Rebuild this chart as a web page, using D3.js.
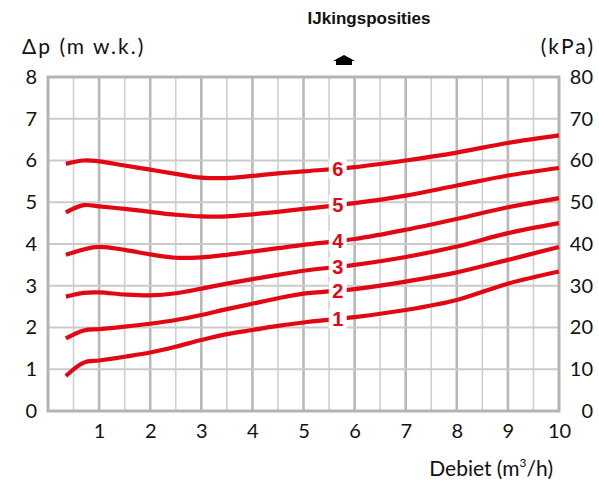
<!DOCTYPE html>
<html>
<head>
<meta charset="utf-8">
<script src="https://cdn.jsdelivr.net/npm/d3@7"></script>
<style>
  body { margin: 0; background: #fff; }
</style>
</head>
<body>
<svg id="chart" width="599" height="481"></svg>
<script>
// flow (m3/h)
const flow = [0.35, 0.7, 1, 1.5, 2, 2.5, 3, 3.5, 4, 4.5, 5, 6, 7, 8, 9, 10];
// pressure drop per setting (m w.k.)
const pos1 = [0.84, 1.16, 1.21, 1.30, 1.40, 1.54, 1.70, 1.84, 1.94, 2.04, 2.12, 2.25, 2.42, 2.66, 3.05, 3.34];
const pos2 = [1.74, 1.93, 1.96, 2.02, 2.09, 2.18, 2.30, 2.44, 2.57, 2.70, 2.81, 2.92, 3.10, 3.32, 3.62, 3.93];
const pos3 = [2.74, 2.83, 2.84, 2.79, 2.77, 2.82, 2.93, 3.05, 3.16, 3.26, 3.36, 3.50, 3.69, 3.94, 4.26, 4.50];
const pos4 = [3.74, 3.87, 3.93, 3.86, 3.75, 3.67, 3.68, 3.74, 3.82, 3.90, 3.98, 4.12, 4.34, 4.60, 4.88, 5.10];
const pos5 = [4.76, 4.93, 4.90, 4.84, 4.77, 4.70, 4.66, 4.66, 4.71, 4.77, 4.84, 4.98, 5.16, 5.40, 5.64, 5.82];
const pos6 = [5.92, 6.00, 5.98, 5.88, 5.78, 5.68, 5.59, 5.58, 5.63, 5.69, 5.74, 5.84, 6.00, 6.19, 6.42, 6.60];
const positionLabels = ["1", "2", "3", "4", "5", "6"];

const xTicks = [1, 2, 3, 4, 5, 6, 7, 8, 9, 10];
const yTicks = [0, 1, 2, 3, 4, 5, 6, 7, 8];
const kpaTicks = [0, 10, 20, 30, 40, 50, 60, 70, 80];

const svg = d3.select("#chart");
const margin = { top: 77, left: 48 };
const FONT = "Lato, 'Noto Sans', sans-serif";
const BOLD = "'Liberation Sans', Arial, sans-serif";

const x = d3.scaleLinear().domain([0, 10]).range([0, 511]);
const y = d3.scaleLinear().domain([0, 8]).range([334, 0]);
const yKpa = d3.scaleLinear().domain([0, 80]).range([334, 0]);

const g = svg.append("g")
  .attr("transform", `translate(${margin.left},${margin.top})`);

// grid - half steps vertically
const halfSteps = d3.range(0.5, 10, 0.5);
g.append("g").selectAll("line")
  .data(halfSteps)
  .enter()
  .append("line")
  .attr("x1", d => x(d)).attr("x2", d => x(d))
  .attr("y1", 0).attr("y2", y(0))
  .attr("stroke", d => (d % 1 === 0 ? "#b8b8b8" : "#cfcfcf"))
  .attr("stroke-width", d => (d % 1 === 0 ? 2.6 : 1.6));

g.append("g").selectAll("line")
  .data(yTicks.slice(1, -1))
  .enter()
  .append("line")
  .attr("x1", 0).attr("x2", x(10))
  .attr("y1", d => y(d)).attr("y2", d => y(d))
  .attr("stroke", "#cbcbcb")
  .attr("stroke-width", 1.8);

// frame
g.append("rect")
  .attr("x", 0).attr("y", 0)
  .attr("width", x(10)).attr("height", y(0))
  .attr("fill", "none")
  .attr("stroke", "#b4b4b4")
  .attr("stroke-width", 3);

// axes (text only)
const leftAxis = g.append("g")
  .call(d3.axisLeft(y).tickValues(yTicks).tickSize(0).tickPadding(9));
const rightAxis = g.append("g")
  .attr("transform", `translate(${x(10)},0)`)
  .call(d3.axisRight(yKpa).tickValues(kpaTicks).tickSize(0).tickPadding(10));
const bottomAxis = g.append("g")
  .attr("transform", `translate(0,${y(0)})`)
  .call(d3.axisBottom(x).tickValues(xTicks).tickSize(0).tickPadding(13));

[leftAxis, rightAxis, bottomAxis].forEach(a => {
  a.attr("font-family", null).attr("font-size", null);
  a.select(".domain").remove();
  a.selectAll("text")
    .style("font-family", FONT)
    .style("font-size", "20px")
    .attr("fill", "#111");
});
leftAxis.selectAll("text").attr("x", -11);
rightAxis.selectAll("text")
  .attr("text-anchor", "end")
  .attr("x", 545 - x(10));

// curves
const series = [pos1, pos2, pos3, pos4, pos5, pos6];
const line = d3.line()
  .x(d => x(d[0]))
  .y(d => y(d[1]))
  .curve(d3.curveCatmullRom.alpha(0.5));

const red = "#e30613";
g.append("g").selectAll("path")
  .data(series)
  .enter()
  .append("path")
  .attr("d", s => line(flow.map((f, i) => [f, s[i]])))
  .attr("fill", "none")
  .attr("stroke", red)
  .attr("stroke-width", 4.2)
  .attr("stroke-linecap", "butt");

// position labels on the curves
const labelAt = 5.67;
const valueAt = s => {
  const i = d3.bisectLeft(flow, labelAt);
  const t = (labelAt - flow[i - 1]) / (flow[i] - flow[i - 1]);
  return s[i - 1] + t * (s[i] - s[i - 1]);
};
const lbl = g.append("g").selectAll("g")
  .data(series)
  .enter()
  .append("g")
  .attr("transform", s => `translate(${x(labelAt)},${y(valueAt(s))})`);
lbl.append("rect")
  .attr("x", -9).attr("y", -10)
  .attr("width", 18).attr("height", 20)
  .attr("fill", "#fff");
lbl.append("text")
  .attr("text-anchor", "middle")
  .attr("dy", "0.36em")
  .style("font-family", BOLD)
  .style("font-weight", "bold")
  .style("font-size", "20px")
  .attr("fill", red)
  .text((s, i) => positionLabels[i]);

// titles
svg.append("text")
  .attr("x", 22).attr("y", 54)
  .style("font-family", FONT)
  .style("font-size", "21px")
  .style("letter-spacing", "2px")
  .attr("fill", "#111")
  .text("Δp (m w.k.)");

svg.append("text")
  .attr("x", 595).attr("y", 54)
  .attr("text-anchor", "end")
  .style("font-family", FONT)
  .style("font-size", "21px")
  .style("letter-spacing", "2px")
  .attr("fill", "#111")
  .text("(kPa)");

svg.append("text")
  .attr("x", 369).attr("y", 24)
  .attr("text-anchor", "middle")
  .style("font-family", BOLD)
  .style("font-weight", "bold")
  .style("font-size", "17px")
  .attr("fill", "#111")
  .text("IJkingsposities");

// arrow marker
svg.append("path")
  .attr("d", "M344,55 L355,61 L352,61 L352,65 L336,65 L336,61 L333,61 Z")
  .attr("fill", "#000");

const xt = svg.append("text")
  .attr("x", 553).attr("y", 476)
  .attr("text-anchor", "end")
  .style("font-family", FONT)
  .style("font-size", "21px")
  .attr("fill", "#111");
xt.append("tspan").text("Debiet (m");
xt.append("tspan").style("font-size", "12px").attr("dy", -9).text("3");
xt.append("tspan").attr("dy", 9).text("/h)");
</script>
</body>
</html>
